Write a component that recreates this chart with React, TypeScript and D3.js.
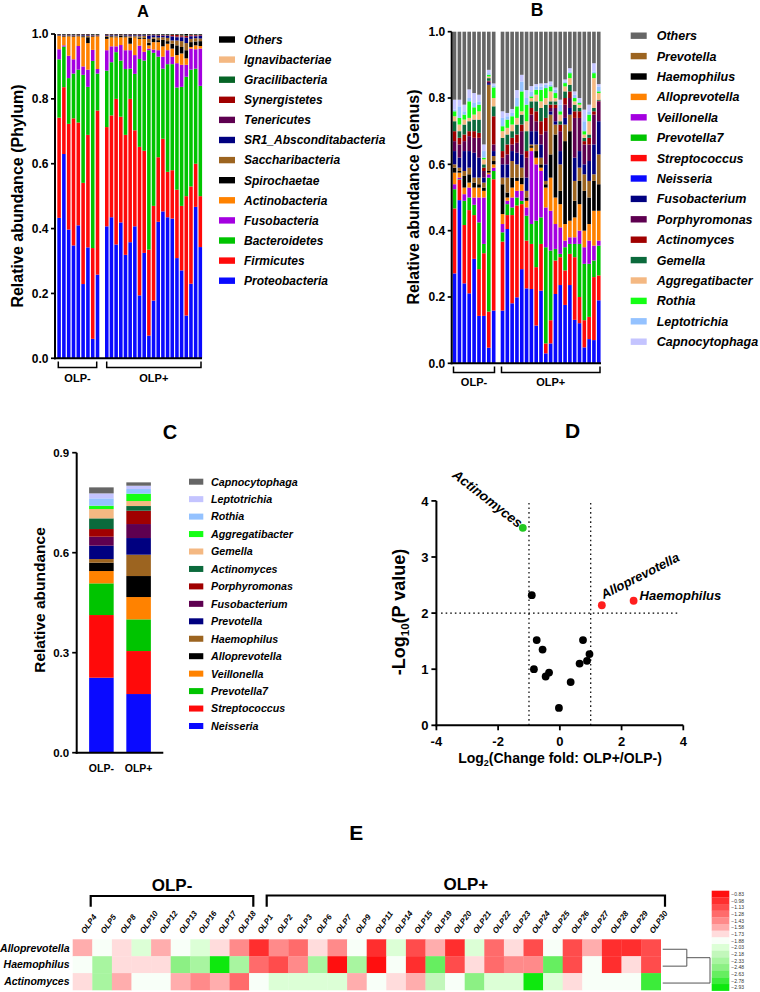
import React from 'react';
import * as d3 from 'd3';

const FONT = '"Liberation Sans", Arial, Helvetica, sans-serif';

// ---------------- samples ----------------
const samplesMinus = ['OLP4', 'OLP5', 'OLP8', 'OLP10', 'OLP12', 'OLP13', 'OLP16', 'OLP17', 'OLP18'];
const samplesPlus = ['OLP1', 'OLP2', 'OLP3', 'OLP6', 'OLP7', 'OLP9', 'OLP11', 'OLP14', 'OLP15', 'OLP19', 'OLP20', 'OLP21', 'OLP22', 'OLP23', 'OLP24', 'OLP25', 'OLP26', 'OLP27', 'OLP28', 'OLP29', 'OLP30'];
const allSamples = [...samplesMinus, ...samplesPlus];

// ---------------- Panel A (phylum, stacked bottom -> top) ----------------
const phyla = ['Proteobacteria', 'Firmicutes', 'Bacteroidetes', 'Fusobacteria', 'Actinobacteria', 'Spirochaetae', 'Saccharibacteria', 'SR1_Absconditabacteria', 'Tenericutes', 'Synergistetes', 'Gracilibacteria', 'Ignavibacteriae', 'Others'];
const phylaColors = ['#0a0aff', '#ff0a0a', '#00c400', '#a400e0', '#ff8200', '#000000', '#9c6420', '#000080', '#5e0050', '#a00000', '#066426', '#f4b882', '#000000'];
const proteobacteria = [0.433, 0.630, 0.397, 0.348, 0.410, 0.229, 0.342, 0.060, 0.258, 0.407, 0.435, 0.351, 0.419, 0.319, 0.358, 0.407, 0.194, 0.325, 0.070, 0.178, 0.421, 0.453, 0.435, 0.431, 0.309, 0.271, 0.132, 0.230, 0.467, 0.343];
const firmicutes = [0.309, 0.206, 0.326, 0.392, 0.317, 0.312, 0.347, 0.280, 0.506, 0.306, 0.314, 0.449, 0.326, 0.370, 0.442, 0.296, 0.458, 0.315, 0.265, 0.292, 0.199, 0.224, 0.140, 0.149, 0.211, 0.199, 0.368, 0.300, 0.133, 0.157];
const bacteroidetes = [0.180, 0.125, 0.141, 0.138, 0.163, 0.333, 0.148, 0.577, 0.114, 0.174, 0.164, 0.144, 0.173, 0.203, 0.093, 0.174, 0.271, 0.278, 0.615, 0.472, 0.310, 0.216, 0.332, 0.327, 0.315, 0.367, 0.368, 0.360, 0.293, 0.340];
const fusobacteria = [0.031, 0.004, 0.069, 0.044, 0.073, 0.026, 0.053, 0.034, 0.014, 0.063, 0.049, 0.018, 0.048, 0.058, 0.057, 0.058, 0.041, 0.027, 0.005, 0.010, 0.020, 0.037, 0.043, 0.023, 0.075, 0.068, 0.037, 0.065, 0.060, 0.115];
const actinobacteria = [0.041, 0.027, 0.060, 0.070, 0.030, 0.090, 0.082, 0.041, 0.101, 0.035, 0.028, 0.028, 0.024, 0.040, 0.020, 0.055, 0.021, 0.040, 0.010, 0.023, 0.025, 0.032, 0.020, 0.025, 0.025, 0.035, 0.020, 0.005, 0.012, 0.008];
const spirochaetae = [0.001, 0.002, 0.002, 0.002, 0.002, 0.003, 0.018, 0.002, 0.001, 0.006, 0.003, 0.002, 0.004, 0.003, 0.018, 0.002, 0.004, 0.003, 0.008, 0.010, 0.006, 0.020, 0.008, 0.015, 0.030, 0.020, 0.025, 0.015, 0.012, 0.015];
const saccharibacteria = [0.001, 0.001, 0.001, 0.001, 0.001, 0.002, 0.004, 0.001, 0.001, 0.003, 0.002, 0.003, 0.002, 0.002, 0.005, 0.003, 0.004, 0.006, 0.012, 0.005, 0.008, 0.008, 0.010, 0.010, 0.015, 0.018, 0.022, 0.010, 0.010, 0.008];
const sr1 = [0.001, 0.001, 0.001, 0.001, 0.001, 0.002, 0.002, 0.001, 0.001, 0.002, 0.002, 0.002, 0.001, 0.002, 0.003, 0.002, 0.003, 0.002, 0.010, 0.006, 0.005, 0.005, 0.007, 0.012, 0.010, 0.012, 0.016, 0.008, 0.006, 0.008];
const tenericutes = [0.000, 0.001, 0.000, 0.001, 0.000, 0.000, 0.001, 0.001, 0.000, 0.001, 0.000, 0.001, 0.000, 0.001, 0.001, 0.000, 0.001, 0.001, 0.001, 0.001, 0.002, 0.001, 0.001, 0.002, 0.002, 0.002, 0.002, 0.002, 0.002, 0.002];
const synergistetes = [0.001, 0.000, 0.001, 0.000, 0.001, 0.001, 0.001, 0.000, 0.001, 0.001, 0.001, 0.000, 0.001, 0.000, 0.001, 0.001, 0.001, 0.000, 0.001, 0.001, 0.001, 0.001, 0.001, 0.003, 0.005, 0.004, 0.004, 0.002, 0.002, 0.001];
const gracilibacteria = [0.000, 0.001, 0.000, 0.001, 0.000, 0.000, 0.000, 0.001, 0.001, 0.000, 0.000, 0.000, 0.000, 0.000, 0.000, 0.000, 0.000, 0.001, 0.001, 0.000, 0.001, 0.001, 0.001, 0.001, 0.001, 0.002, 0.002, 0.001, 0.001, 0.001];
const ignavibacteriae = [0.000, 0.000, 0.000, 0.000, 0.000, 0.000, 0.000, 0.000, 0.000, 0.000, 0.000, 0.000, 0.000, 0.000, 0.000, 0.000, 0.000, 0.000, 0.000, 0.000, 0.000, 0.000, 0.000, 0.000, 0.000, 0.000, 0.000, 0.000, 0.000, 0.000];
const othersPhylum = [0.002, 0.002, 0.002, 0.002, 0.002, 0.002, 0.002, 0.002, 0.002, 0.002, 0.002, 0.002, 0.002, 0.002, 0.002, 0.002, 0.002, 0.002, 0.002, 0.002, 0.002, 0.002, 0.002, 0.002, 0.002, 0.002, 0.004, 0.002, 0.002, 0.002];
const phylumSeries = [proteobacteria, firmicutes, bacteroidetes, fusobacteria, actinobacteria, spirochaetae, saccharibacteria, sr1, tenericutes, synergistetes, gracilibacteria, ignavibacteriae, othersPhylum];
const yTicksAB = [0, 0.2, 0.4, 0.6, 0.8, 1.0];

// ---------------- Panel B (genus; cumulative upper bounds, bottom -> top, Others fills to 1) ----------------
const generaB = ['Neisseria', 'Streptococcus', 'Prevotella7', 'Veillonella', 'Alloprevotella', 'Haemophilus', 'Prevotella', 'Fusobacterium', 'Porphyromonas', 'Actinomyces', 'Gemella', 'Aggregatibacter', 'Rothia', 'Leptotrichia', 'Capnocytophaga', 'Others'];
const generaBColors = ['#0a0aff', '#ff0a0a', '#00c400', '#a400e0', '#ff8200', '#000000', '#9c6420', '#000080', '#5e0050', '#a00000', '#0b6a3c', '#f4b882', '#14ff14', '#94c2ff', '#c4c4ff', '#666666'];
const legendOrderB = ['Others', 'Prevotella', 'Haemophilus', 'Alloprevotella', 'Veillonella', 'Prevotella7', 'Streptococcus', 'Neisseria', 'Fusobacterium', 'Porphyromonas', 'Actinomyces', 'Gemella', 'Aggregatibacter', 'Rothia', 'Leptotrichia', 'Capnocytophaga'];
const genusCumulative = [
  [0.271, 0.467, 0.525, 0.54, 0.575, 0.59, 0.60, 0.64, 0.67, 0.70, 0.73, 0.745, 0.76, 0.765, 0.795],
  [0.492, 0.553, 0.555, 0.56, 0.575, 0.58, 0.59, 0.62, 0.66, 0.68, 0.70, 0.72, 0.74, 0.775, 0.795],
  [0.241, 0.417, 0.49, 0.51, 0.53, 0.565, 0.58, 0.64, 0.67, 0.69, 0.72, 0.735, 0.75, 0.76, 0.78],
  [0.211, 0.462, 0.50, 0.53, 0.545, 0.57, 0.59, 0.64, 0.685, 0.70, 0.73, 0.74, 0.79, 0.80, 0.826],
  [0.315, 0.447, 0.478, 0.50, 0.53, 0.545, 0.56, 0.635, 0.68, 0.70, 0.735, 0.75, 0.772, 0.785, 0.815],
  [0.143, 0.284, 0.425, 0.50, 0.53, 0.54, 0.56, 0.62, 0.68, 0.695, 0.735, 0.76, 0.78, 0.79, 0.81],
  [0.143, 0.332, 0.36, 0.50, 0.52, 0.53, 0.545, 0.56, 0.58, 0.59, 0.60, 0.615, 0.62, 0.64, 0.66],
  [0.047, 0.156, 0.56, 0.57, 0.575, 0.58, 0.84, 0.845, 0.85, 0.852, 0.86, 0.865, 0.87, 0.875, 0.885],
  [0.159, 0.555, 0.58, 0.59, 0.60, 0.61, 0.625, 0.64, 0.66, 0.745, 0.775, 0.80, 0.832, 0.838, 0.844],
  [0.159, 0.367, 0.395, 0.42, 0.45, 0.54, 0.56, 0.60, 0.62, 0.64, 0.68, 0.70, 0.715, 0.74, 0.76],
  [0.405, 0.447, 0.48, 0.49, 0.50, 0.515, 0.56, 0.60, 0.63, 0.66, 0.69, 0.71, 0.735, 0.745, 0.755],
  [0.181, 0.447, 0.47, 0.50, 0.53, 0.56, 0.61, 0.64, 0.66, 0.68, 0.70, 0.72, 0.745, 0.755, 0.767],
  [0.199, 0.476, 0.50, 0.52, 0.55, 0.56, 0.60, 0.635, 0.665, 0.69, 0.72, 0.74, 0.775, 0.80, 0.824],
  [0.284, 0.48, 0.49, 0.52, 0.54, 0.56, 0.59, 0.63, 0.70, 0.72, 0.75, 0.76, 0.82, 0.85, 0.87],
  [0.226, 0.37, 0.445, 0.47, 0.49, 0.50, 0.52, 0.56, 0.62, 0.64, 0.70, 0.73, 0.78, 0.80, 0.824],
  [0.224, 0.36, 0.42, 0.64, 0.65, 0.655, 0.66, 0.70, 0.75, 0.77, 0.79, 0.80, 0.805, 0.82, 0.836],
  [0.114, 0.29, 0.43, 0.60, 0.62, 0.64, 0.66, 0.70, 0.73, 0.76, 0.79, 0.81, 0.825, 0.835, 0.842],
  [0.219, 0.36, 0.44, 0.58, 0.59, 0.60, 0.62, 0.66, 0.69, 0.73, 0.77, 0.79, 0.825, 0.835, 0.844],
  [0.030, 0.06, 0.35, 0.47, 0.53, 0.54, 0.55, 0.60, 0.70, 0.74, 0.78, 0.80, 0.83, 0.84, 0.845],
  [0.060, 0.13, 0.34, 0.46, 0.56, 0.63, 0.75, 0.76, 0.77, 0.78, 0.79, 0.82, 0.835, 0.84, 0.85],
  [0.209, 0.31, 0.345, 0.42, 0.50, 0.69, 0.72, 0.73, 0.77, 0.78, 0.79, 0.80, 0.815, 0.825, 0.832],
  [0.236, 0.32, 0.33, 0.41, 0.48, 0.52, 0.60, 0.64, 0.70, 0.72, 0.73, 0.75, 0.76, 0.78, 0.795],
  [0.176, 0.28, 0.35, 0.37, 0.42, 0.67, 0.72, 0.74, 0.78, 0.80, 0.82, 0.835, 0.845, 0.85, 0.856],
  [0.236, 0.33, 0.36, 0.38, 0.43, 0.70, 0.75, 0.77, 0.80, 0.82, 0.84, 0.86, 0.875, 0.88, 0.89],
  [0.131, 0.32, 0.36, 0.38, 0.44, 0.49, 0.55, 0.62, 0.74, 0.76, 0.78, 0.79, 0.80, 0.81, 0.82],
  [0.121, 0.20, 0.36, 0.40, 0.48, 0.55, 0.59, 0.64, 0.74, 0.76, 0.77, 0.78, 0.785, 0.79, 0.80],
  [0.048, 0.13, 0.30, 0.35, 0.40, 0.52, 0.57, 0.60, 0.66, 0.67, 0.68, 0.69, 0.70, 0.73, 0.765],
  [0.073, 0.14, 0.30, 0.37, 0.42, 0.50, 0.55, 0.61, 0.66, 0.68, 0.69, 0.73, 0.75, 0.76, 0.78],
  [0.07, 0.26, 0.31, 0.355, 0.46, 0.55, 0.57, 0.66, 0.75, 0.76, 0.77, 0.86, 0.875, 0.88, 0.905],
  [0.19, 0.265, 0.355, 0.37, 0.46, 0.54, 0.63, 0.73, 0.79, 0.792, 0.795, 0.815, 0.82, 0.835, 0.842],
];

// ---------------- Panel C (group means, bottom -> top) ----------------
const generaC = ['Neisseria', 'Streptococcus', 'Prevotella7', 'Veillonella', 'Alloprevotella', 'Haemophilus', 'Prevotella', 'Fusobacterium', 'Porphyromonas', 'Actinomyces', 'Gemella', 'Aggregatibacter', 'Rothia', 'Leptotrichia', 'Capnocytophaga'];
const generaCColors = ['#0a0aff', '#ff0a0a', '#00c400', '#ff8200', '#000000', '#9c6420', '#000080', '#5e0050', '#a00000', '#0b6a3c', '#f4b882', '#14ff14', '#94c2ff', '#c4c4ff', '#666666'];
const groupsC = ['OLP-', 'OLP+'];
const meanOLPminus = [0.225, 0.188, 0.095, 0.037, 0.025, 0.011, 0.040, 0.027, 0.023, 0.032, 0.028, 0.010, 0.022, 0.015, 0.018];
const meanOLPplus = [0.176, 0.129, 0.095, 0.067, 0.063, 0.064, 0.050, 0.042, 0.040, 0.014, 0.015, 0.022, 0.014, 0.010, 0.010];
const yTicksC = [0, 0.3, 0.6, 0.9];

// ---------------- Panel D (volcano) ----------------
const volcanoLog2FC = [-1.20, 1.36, 2.39, -0.91, -0.75, -0.56, -0.84, -0.35, -0.46, 0.35, 0.75, 0.96, 0.88, 0.64, -0.03];
const volcanoNegLogP = [3.52, 2.14, 2.22, 2.32, 1.52, 1.35, 1.00, 0.94, 0.87, 0.77, 1.52, 1.27, 1.15, 1.10, 0.31];
const volcanoStatus = ['down', 'up', 'up', 'ns', 'ns', 'ns', 'ns', 'ns', 'ns', 'ns', 'ns', 'ns', 'ns', 'ns', 'ns'];
const volcanoNames = ['Actinomyces', 'Alloprevotella', 'Haemophilus', '', '', '', '', '', '', '', '', '', '', '', ''];
const xTicksD = [-4, -2, 0, 2, 4];
const yTicksD = [0, 1, 2, 3, 4];

// ---------------- Panel E (heatmap) ----------------
const heatRows = ['Alloprevotella', 'Haemophilus', 'Actinomyces'];
const heatAlloprevotella = [-1.58, -1.88, -1.73, -2.03, -1.58, -1.88, -2.03, -1.73, -1.43, -0.98, -1.43, -1.28, -1.73, -1.43, -1.88, -0.98, -2.03, -1.13, -1.58, -0.98, -2.03, -1.28, -1.73, -1.13, -1.88, -1.13, -1.58, -0.98, -0.98, -1.13];
const heatHaemophilus = [-1.88, -2.33, -1.73, -1.73, -1.73, -2.48, -2.33, -2.93, -2.33, -1.28, -1.13, -1.43, -2.33, -0.83, -2.33, -0.83, -1.88, -0.98, -2.63, -1.13, -1.73, -1.28, -1.43, -1.43, -2.63, -1.13, -1.88, -0.98, -1.73, -1.13];
const heatActinomyces = [-1.73, -2.33, -1.58, -1.88, -1.88, -1.58, -1.43, -1.58, -1.28, -1.88, -2.03, -2.03, -2.03, -2.03, -1.58, -1.88, -1.73, -1.58, -2.18, -1.88, -2.48, -2.03, -2.03, -2.93, -2.03, -1.73, -1.88, -1.88, -1.88, -2.78];
const heatLegendTicks = [-0.83, -0.98, -1.13, -1.28, -1.43, -1.58, -1.73, -1.88, -2.03, -2.18, -2.33, -2.48, -2.63, -2.78, -2.93];
const heatColors = ['#ff0f0f', '#ff2e2e', '#ff4c4c', '#ff6b6b', '#ff8a8a', '#ffadad', '#ffdcdc', '#f8fff8', '#dcffd6', '#c2f7bb', '#a8f5a0', '#8cf084', '#66ee60', '#3cec3a', '#0ee80e'];
const dendroMergeHeights = [0.51, 1.0];

// ---------------- helpers ----------------
function YAxis({ scale, ticks, x, format, fontSize, tickLen = 4, gap = 2.5, sw = 2 }: any) {
  const [r0, r1] = scale.range();
  return (
    <g>
      <line x1={x} x2={x} y1={r0 + sw / 2} y2={r1} stroke="#000" strokeWidth={sw} />
      {ticks.map((t: number) => (
        <g key={t}>
          <line x1={x - tickLen} x2={x} y1={scale(t)} y2={scale(t)} stroke="#000" strokeWidth={sw * 0.85} />
          <text x={x - tickLen - gap} y={scale(t)} dy="0.36em" textAnchor="end" fontSize={fontSize} fontWeight="bold">{format(t)}</text>
        </g>
      ))}
    </g>
  );
}

function Bracket({ x0, x1, yTop, yBot, label, labelY, fontSize, sw = 1.5, up = true }: any) {
  const d = up
    ? `M${x0},${yTop} V${yBot} H${x1} V${yTop}`
    : `M${x0},${yBot} V${yTop} H${x1} V${yBot}`;
  return (
    <g>
      <path d={d} fill="none" stroke="#000" strokeWidth={sw} />
      <text x={(x0 + x1) / 2} y={labelY} textAnchor="middle" fontSize={fontSize} fontWeight="bold">{label}</text>
    </g>
  );
}

const f1 = d3.format('.1f');

// ---------------- Panel A ----------------
function PanelA() {
  const y = d3.scaleLinear().domain([0, 1]).range([358.3, 34]);
  const xm = d3.scaleBand().domain(samplesMinus).range([57.3, 99.3]).paddingInner(0.26);
  const xp = d3.scaleBand().domain(samplesPlus).range([105, 202]).paddingInner(0.26);
  const xOf = (s: string) => (samplesMinus.includes(s) ? (xm(s) as number) : (xp(s) as number));
  const rows = allSamples.map((s, i) => {
    const r: any = { sample: s };
    phyla.forEach((p, k) => { r[p] = phylumSeries[k][i]; });
    return r;
  });
  const series = d3.stack().keys(phyla)(rows);
  const bw = xm.bandwidth();
  return (
    <g>
      <text x={143} y={16.7} textAnchor="middle" fontSize={16.5} fontWeight="bold">A</text>
      {series.map((s, k) => (
        <g key={phyla[k]} fill={phylaColors[k]}>
          {s.map((d: any, i: number) => (
            <rect key={i} x={xOf(allSamples[i])} width={bw} y={y(d[1])} height={Math.max(0, y(d[0]) - y(d[1]))} />
          ))}
        </g>
      ))}
      <YAxis scale={y} ticks={yTicksAB} x={55} format={f1} fontSize={12} />
      <line x1={54} x2={202} y1={y(0)} y2={y(0)} stroke="#000" strokeWidth={2} />
      <text transform="translate(17,196) rotate(-90)" textAnchor="middle" dy="0.35em" fontSize={16} fontWeight="bold">Relative abundance (Phylum)</text>
      <Bracket x0={58.3} x1={96.7} yTop={361.5} yBot={367.5} label="OLP-" labelY={381.5} fontSize={11} />
      <Bracket x0={106.7} x1={201} yTop={361.5} yBot={367.5} label="OLP+" labelY={381.5} fontSize={11} />
      {[...phyla].reverse().map((p, i) => {
        const k = phyla.indexOf(p);
        const cy = 39.5 + 20.1 * i;
        return (
          <g key={p}>
            <rect x={219} y={cy - 3.2} width={16} height={6.4} fill={phylaColors[k]} />
            <text x={244} y={cy} dy="0.36em" fontSize={12} fontWeight="bold" fontStyle="italic">{p}</text>
          </g>
        );
      })}
    </g>
  );
}

// ---------------- Panel B ----------------
function PanelB() {
  const y = d3.scaleLinear().domain([0, 1]).range([363.3, 31.7]);
  const xm = d3.scaleBand().domain(samplesMinus).range([452.7, 495.5]).paddingInner(0.26);
  const xp = d3.scaleBand().domain(samplesPlus).range([500.7, 600.5]).paddingInner(0.26);
  const xOf = (s: string) => (samplesMinus.includes(s) ? (xm(s) as number) : (xp(s) as number));
  const bw = xm.bandwidth();
  return (
    <g>
      <text x={537} y={16} textAnchor="middle" fontSize={17.5} fontWeight="bold">B</text>
      {allSamples.map((s, i) => {
        const tops = genusCumulative[i];
        return (
          <g key={s}>
            {generaB.map((g, k) => {
              const v0 = k === 0 ? 0 : tops[k - 1];
              const v1 = k < tops.length ? tops[k] : 1;
              return <rect key={g} x={xOf(s)} width={bw} y={y(v1)} height={Math.max(0, y(v0) - y(v1))} fill={generaBColors[k]} />;
            })}
          </g>
        );
      })}
      <YAxis scale={y} ticks={yTicksAB} x={451.7} format={f1} fontSize={12} />
      <line x1={450.7} x2={601} y1={y(0)} y2={y(0)} stroke="#000" strokeWidth={2} />
      <text transform="translate(413,197) rotate(-90)" textAnchor="middle" dy="0.35em" fontSize={16} fontWeight="bold">Relative abundance (Genus)</text>
      <Bracket x0={453.5} x1={494.5} yTop={366.5} yBot={372.5} label="OLP-" labelY={386} fontSize={11} />
      <Bracket x0={501.5} x1={600} yTop={366.5} yBot={372.5} label="OLP+" labelY={386} fontSize={11} />
      {legendOrderB.map((g, i) => {
        const k = generaB.indexOf(g);
        const cy = 35.7 + 20.4 * i;
        return (
          <g key={g}>
            <rect x={630.7} y={cy - 3.2} width={16} height={6.4} fill={generaBColors[k]} />
            <text x={656.7} y={cy} dy="0.36em" fontSize={12.5} fontWeight="bold" fontStyle="italic">{g}</text>
          </g>
        );
      })}
    </g>
  );
}

// ---------------- Panel C ----------------
function PanelC() {
  const y = d3.scaleLinear().domain([0, 0.9]).range([752.7, 452.7]);
  const x = d3.scaleBand().domain(groupsC).range([76.7, 163.3]).paddingInner(0.34).paddingOuter(0.334);
  const rows = groupsC.map((g, gi) => {
    const r: any = { group: g };
    generaC.forEach((name, k) => { r[name] = gi === 0 ? meanOLPminus[k] : meanOLPplus[k]; });
    return r;
  });
  const series = d3.stack().keys(generaC)(rows);
  return (
    <g>
      <text x={170} y={439.3} textAnchor="middle" fontSize={20} fontWeight="bold">C</text>
      {series.map((s, k) => (
        <g key={generaC[k]} fill={generaCColors[k]}>
          {s.map((d: any, i: number) => (
            <rect key={i} x={x(groupsC[i])} width={x.bandwidth()} y={y(d[1])} height={Math.max(0, y(d[0]) - y(d[1]))} />
          ))}
        </g>
      ))}
      <YAxis scale={y} ticks={yTicksC} x={76.7} format={f1} fontSize={11.5} tickLen={4.5} gap={3} />
      <line x1={75.7} x2={163.3} y1={y(0)} y2={y(0)} stroke="#000" strokeWidth={2} />
      {groupsC.map((g) => (
        <text key={g} x={(x(g) as number) + x.bandwidth() / 2} y={771.5} textAnchor="middle" fontSize={10.5} fontWeight="bold">{g}</text>
      ))}
      <text transform="translate(40,600) rotate(-90)" textAnchor="middle" dy="0.35em" fontSize={15.5} fontWeight="bold">Relative abundance</text>
      {[...generaC].reverse().map((g, i) => {
        const k = generaC.indexOf(g);
        const cy = 481.7 + 17.45 * i;
        return (
          <g key={g}>
            <rect x={189} y={cy - 3} width={14.3} height={6} fill={generaCColors[k]} />
            <text x={211} y={cy} dy="0.36em" fontSize={10.7} fontWeight="bold" fontStyle="italic">{g}</text>
          </g>
        );
      })}
    </g>
  );
}

// ---------------- Panel D ----------------
function PanelD() {
  const x = d3.scaleLinear().domain([-4, 4]).range([436.4, 683.3]);
  const y = d3.scaleLinear().domain([0, 4]).range([725.3, 500.9]);
  const colorOf = (s: string) => (s === 'down' ? '#22c822' : s === 'up' ? '#ff1e1e' : '#000');
  const dot = '1.6,3';
  return (
    <g>
      <text x={572.5} y={438.3} textAnchor="middle" fontSize={21} fontWeight="bold">D</text>
      <line x1={x(-1)} x2={x(-1)} y1={y(0)} y2={y(4)} stroke="#000" strokeWidth={1.2} strokeDasharray={dot} />
      <line x1={x(1)} x2={x(1)} y1={y(0)} y2={y(4)} stroke="#000" strokeWidth={1.2} strokeDasharray={dot} />
      <line x1={x(-3.85)} x2={x(3.9)} y1={y(2)} y2={y(2)} stroke="#000" strokeWidth={1.2} strokeDasharray={dot} />
      <line x1={x(-4)} x2={x(-4)} y1={y(0) + 1} y2={y(4)} stroke="#000" strokeWidth={2} />
      {yTicksD.map((t) => (
        <g key={t}>
          <line x1={x(-4) - 5} x2={x(-4)} y1={y(t)} y2={y(t)} stroke="#000" strokeWidth={1.8} />
          <text x={x(-4) - 8} y={y(t)} dy="0.36em" textAnchor="end" fontSize={13} fontWeight="bold">{t}</text>
        </g>
      ))}
      <line x1={x(-4) - 1} x2={x(4)} y1={y(0)} y2={y(0)} stroke="#000" strokeWidth={2} />
      {xTicksD.map((t) => (
        <g key={t}>
          <line x1={x(t)} x2={x(t)} y1={y(0)} y2={y(0) + 5} stroke="#000" strokeWidth={1.8} />
          <text x={x(t)} y={y(0) + 21} textAnchor="middle" fontSize={13} fontWeight="bold">{t}</text>
        </g>
      ))}
      {volcanoLog2FC.map((v, i) => (
        <circle key={i} cx={x(v)} cy={y(volcanoNegLogP[i])} r={3.9} fill={colorOf(volcanoStatus[i])} />
      ))}
      <text transform={`translate(${x(volcanoLog2FC[0]) - 5},${y(volcanoNegLogP[0]) + 0.5}) rotate(38)`} textAnchor="end" fontSize={13.5} fontWeight="bold" fontStyle="italic">{volcanoNames[0]}</text>
      <text transform={`translate(${x(volcanoLog2FC[1]) + 2},${y(volcanoNegLogP[1]) - 6}) rotate(-27)`} textAnchor="start" fontSize={13} fontWeight="bold" fontStyle="italic">{volcanoNames[1]}</text>
      <text x={x(volcanoLog2FC[2]) + 6} y={y(volcanoNegLogP[2]) - 0.5} textAnchor="start" fontSize={13} fontWeight="bold" fontStyle="italic">{volcanoNames[2]}</text>
      <text transform="translate(398.5,612) rotate(-90)" textAnchor="middle" dy="0.35em" fontSize={18} fontWeight="bold">
        -Log<tspan fontSize={11.5} dy={4}>10</tspan><tspan dy={-4}>(P value)</tspan>
      </text>
      <text x={560} y={763} textAnchor="middle" fontSize={14} fontWeight="bold">
        Log<tspan fontSize={9} dy={3}>2</tspan><tspan dy={-3}>(Change fold: OLP+/OLP-)</tspan>
      </text>
    </g>
  );
}

// ---------------- Panel E ----------------
function PanelE() {
  const x = d3.scaleBand().domain(allSamples).range([72.7, 660.7]);
  const y = d3.scaleBand().domain(heatRows).range([939.3, 990]);
  const color = d3.scaleQuantize<string>().domain([-3.005, -0.755]).range([...heatColors].reverse());
  const heatValues = [heatAlloprevotella, heatHaemophilus, heatActinomyces];
  const ly = d3.scaleBand().domain(heatLegendTicks.map(String)).range([890.7, 990.7]);
  const fmt = d3.format('.2f');
  const dx = d3.scaleLinear().domain([0, 1]).range([662.7, 710]);
  const rc = (r: string) => (y(r) as number) + y.bandwidth() / 2 + 1.5;
  const m1 = (rc(heatRows[0]) + rc(heatRows[1])) / 2;
  return (
    <g>
      <text x={356.3} y={840} textAnchor="middle" fontSize={21} fontWeight="bold">E</text>
      <Bracket x0={90.7} x1={253.3} yTop={896} yBot={906.7} label="OLP-" labelY={890.7} fontSize={17} sw={2.2} up={false} />
      <Bracket x0={266.7} x1={665} yTop={895.5} yBot={906.7} label="OLP+" labelY={890} fontSize={17} sw={2.2} up={false} />
      {allSamples.map((s) => (
        <text key={s} transform={`translate(${(x(s) as number) + x.bandwidth() / 2 + 2.5},934) rotate(-55)`} fontSize={8} fontWeight="bold" fontStyle="italic">{s}</text>
      ))}
      {heatRows.map((r, ri) => (
        <g key={r}>
          {allSamples.map((s, ci) => (
            <rect key={s} x={x(s)} y={y(r)} width={x.bandwidth() + 0.3} height={y.bandwidth() + 0.3} fill={color(heatValues[ri][ci])} />
          ))}
          <text x={69.5} y={(y(r) as number) + y.bandwidth() / 2} dy="0.36em" textAnchor="end" fontSize={10.5} fontWeight="bold" fontStyle="italic">{r}</text>
        </g>
      ))}
      <g stroke="#555" strokeWidth={1} fill="none">
        <path d={`M${dx(0)},${rc(heatRows[0])} H${dx(dendroMergeHeights[0])} V${rc(heatRows[1])} H${dx(0)}`} />
        <path d={`M${dx(dendroMergeHeights[0])},${m1} H${dx(dendroMergeHeights[1])} V${rc(heatRows[2])} H${dx(0)}`} />
      </g>
      {heatLegendTicks.map((t, i) => (
        <g key={t}>
          <rect x={711.7} y={ly(String(t))} width={17.6} height={ly.bandwidth() + 0.2} fill={heatColors[i]} />
          <text x={731.3} y={(ly(String(t)) as number) + ly.bandwidth() / 2} dy="0.36em" fontSize={5} fill="#333">{fmt(t)}</text>
        </g>
      ))}
    </g>
  );
}

export default function App() {
  return (
    <svg width={760} height={992} viewBox="0 0 760 992" style={{ position: 'absolute', left: 0, top: 0, background: '#fff' }} fontFamily={FONT}>
      <rect width={760} height={992} fill="#fff" />
      <PanelA />
      <PanelB />
      <PanelC />
      <PanelD />
      <PanelE />
    </svg>
  );
}
